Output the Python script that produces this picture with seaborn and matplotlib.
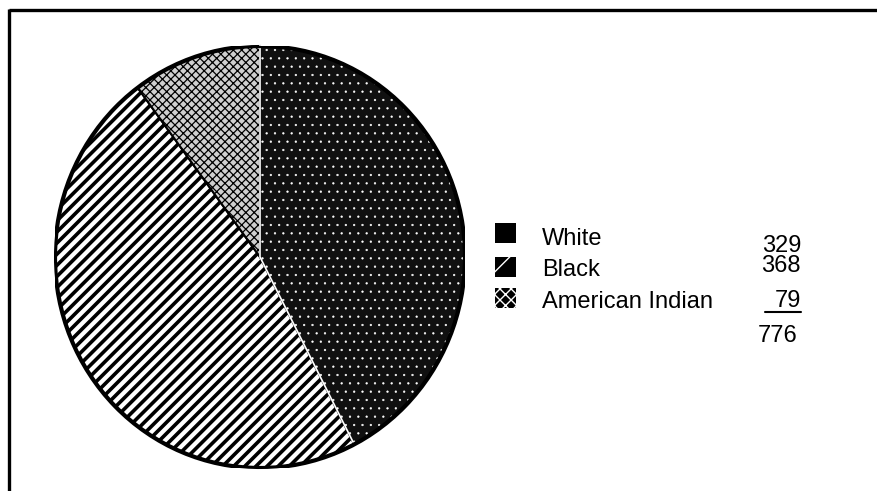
import matplotlib
matplotlib.use('Agg')
import matplotlib.pyplot as plt
import seaborn as sns
from matplotlib.patches import Rectangle, Ellipse

# Data
groups = ['White', 'Black', 'American Indian']
counts = [329, 368, 79]
total_label = '776'

sns.set_theme(style='white')
plt.rcParams['font.family'] = ['Liberation Sans', 'DejaVu Sans']
plt.rcParams['hatch.linewidth'] = 2.4

W, H = 878, 491
fig = plt.figure(figsize=(W / 100, H / 100), dpi=100)
fig.patch.set_facecolor('white')

# background axes in pixel coords for frame + legend
bg = fig.add_axes([0, 0, 1, 1])
bg.set_xlim(0, W)
bg.set_ylim(H, 0)
bg.axis('off')
bg.plot([9, W], [9.5, 9.5], color='black', lw=2.4, solid_capstyle='butt')
bg.plot([9.5, 9.5], [9, H], color='black', lw=2.4, solid_capstyle='butt')

# pie
ax = fig.add_axes([55 / W, (H - 468) / H, 410 / W, 422 / H])
wedges, _ = ax.pie(counts, startangle=90, counterclock=False, radius=1)
ax.set_aspect('auto')
ax.set_xlim(-1, 1)
ax.set_ylim(-1, 1)
ax.axis('off')

styles = [
    dict(facecolor='#101010', edgecolor='white', hatch='..', lw=1.2, hw=0.4, z=3),
    dict(facecolor='white', edgecolor='black', hatch='///', lw=1.5, hw=2.6, z=2),
    dict(facecolor='#cfcfcf', edgecolor='black', hatch='xxxx', lw=1.5, hw=0.9, z=2),
]
for w, st in zip(wedges, styles):
    w.set_facecolor(st['facecolor'])
    w.set_edgecolor(st['edgecolor'])
    w.set_hatch(st['hatch'])
    w.set_linewidth(st['lw'])
    w.set_zorder(st['z'])
    if hasattr(w, 'set_hatch_linewidth'):
        w.set_hatch_linewidth(st['hw'])

ax.add_patch(Ellipse((0, 0), 2, 2, fill=False, edgecolor='black', lw=3, zorder=5))

# legend
sq_tops = [223, 257, 288]
txt_base = [245, 276, 308]
num_base = [252, 272, 307]
sq_hatch = [None, '/', 'xxx']
for i, g in enumerate(groups):
    r = Rectangle((495, sq_tops[i]), 21, 20, facecolor='black',
                  edgecolor='white' if sq_hatch[i] else 'black',
                  hatch=sq_hatch[i], lw=0)
    if hasattr(r, 'set_hatch_linewidth'):
        r.set_hatch_linewidth(1.0)
    bg.add_patch(r)
    bg.text(542, txt_base[i], g, fontsize=17, va='baseline', ha='left', color='black')
    bg.text(801, num_base[i], str(counts[i]), fontsize=17, va='baseline', ha='right', color='black')

bg.plot([765, 801], [311.5, 311.5], color='black', lw=1.5)
bg.text(798, 342, total_label, fontsize=17, va='baseline', ha='right', color='black')

fig.savefig('out.png', dpi=100, facecolor='white')
